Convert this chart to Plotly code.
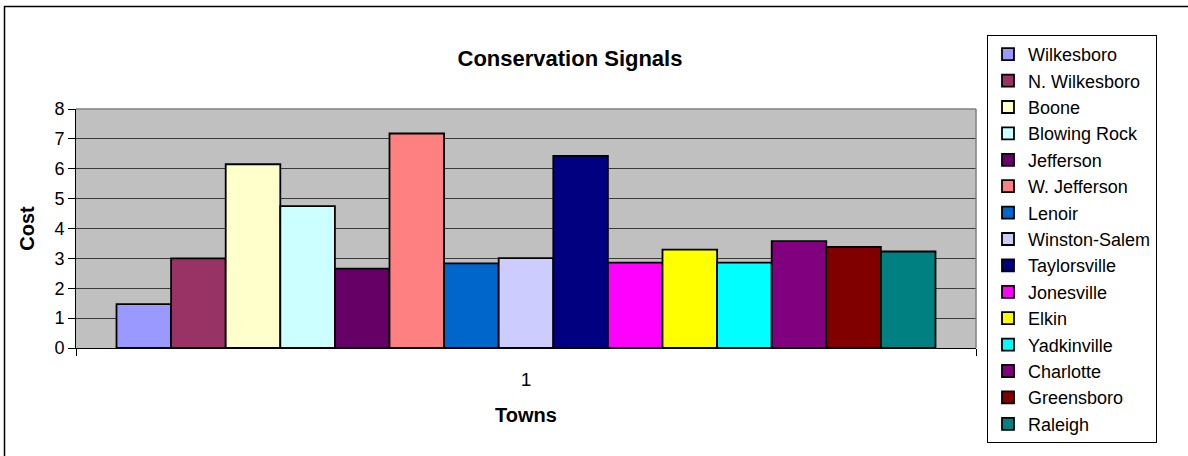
import plotly.graph_objects as go

towns = ["Wilkesboro", "N. Wilkesboro", "Boone", "Blowing Rock", "Jefferson",
         "W. Jefferson", "Lenoir", "Winston-Salem", "Taylorsville", "Jonesville",
         "Elkin", "Yadkinville", "Charlotte", "Greensboro", "Raleigh"]
costs = [1.47, 3.0, 6.15, 4.75, 2.66, 7.18, 2.83, 3.01, 6.43, 2.86,
         3.29, 2.86, 3.58, 3.38, 3.23]
colors = ["#9999FF", "#993366", "#FFFFCC", "#CCFFFF", "#660066",
          "#FF8080", "#0066CC", "#CCCCFF", "#000080", "#FF00FF",
          "#FFFF00", "#00FFFF", "#800080", "#800000", "#008080"]
category = ["1"]

FONT = "Arial, Liberation Sans, sans-serif"

fig = go.Figure()
for name, val, col in zip(towns, costs, colors):
    fig.add_trace(go.Bar(x=category, y=[val], name=name,
                         marker=dict(color=col, line=dict(color="black", width=1.8))))

W, H = 1188, 456
L, R, T, B = 76, 212, 109, 108
pw, ph = W - L - R, H - T - B

def px_x(p):
    return (p - L) / pw

def px_y(p):
    return (H - B - p) / ph

fig.update_layout(
    width=W, height=H,
    margin=dict(l=L, r=R, t=T, b=B, autoexpand=False),
    paper_bgcolor="white", plot_bgcolor="#C0C0C0",
    barmode="group", bargap=0.09, bargroupgap=0,
    font=dict(family=FONT, color="black", size=18),
    title=dict(text="<b>Conservation Signals</b>", font=dict(size=22, family=FONT),
               x=px_x(570), xref="paper", xanchor="center",
               y=1 - 58 / H, yref="container", yanchor="middle"),
    xaxis=dict(type="category", range=[-0.5, 0.5], tickson="boundaries",
               ticks="outside", ticklen=7, tickcolor="black",
               showline=True, linecolor="black", linewidth=1,
               showgrid=False, tickfont=dict(size=19), ticklabelstandoff=14,
               title=dict(text="<b>Towns</b>", font=dict(size=20), standoff=19)),
    yaxis=dict(range=[0, 8], dtick=1, ticks="outside", ticklen=7, tickcolor="black",
               showline=True, linecolor="black", linewidth=1,
               showgrid=True, gridcolor="#3a3a3a", gridwidth=1,
               zeroline=False, tickfont=dict(size=18),
               title=dict(text="<b>Cost</b>", font=dict(size=20), standoff=14)),
    legend=dict(x=px_x(987), xanchor="left", y=px_y(35), yanchor="top",
                bordercolor="black", borderwidth=1, bgcolor="white",
                font=dict(size=18, family=FONT), tracegroupgap=0,
                itemwidth=30, maxheight=430),
    showlegend=True,
    shapes=[
        dict(type="line", xref="paper", yref="paper", x0=1, x1=1, y0=0, y1=1,
             line=dict(color="#808080", width=1.5)),
        dict(type="line", xref="paper", yref="paper", x0=0, x1=1, y0=1, y1=1,
             line=dict(color="#808080", width=1.5)),
        dict(type="rect", xref="paper", yref="paper",
             x0=px_x(4.5), x1=px_x(1300), y0=px_y(520), y1=px_y(6.5),
             line=dict(color="black", width=1.5), fillcolor="rgba(0,0,0,0)", layer="below"),
    ],
)

fig.write_html("out.html", config={"displayModeBar": False},
               post_script="document.body.style.margin='0';")
